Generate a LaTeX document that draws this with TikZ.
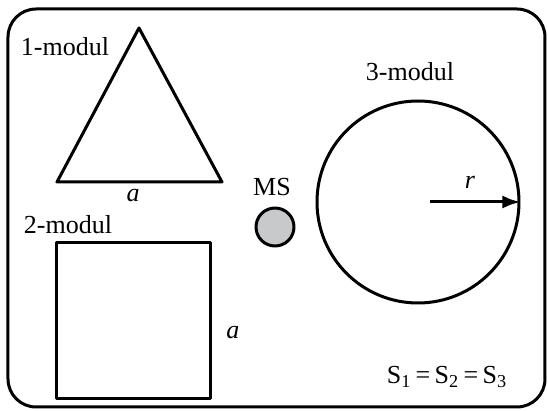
\documentclass[tikz,border=0pt]{standalone}
\usepackage{fontspec}
\setmainfont{Liberation Serif}
\usetikzlibrary{arrows.meta,positioning}
\definecolor{msgray}{HTML}{C8C9CB}

\begin{document}
\begin{tikzpicture}[x=0.5pt,y=-0.5pt,>=Latex,line join=round,
  every node/.style={font=\fontsize{13}{15}\selectfont,inner sep=0pt},
  outline/.style={draw=black,line width=1.5pt}]
  \useasboundingbox (0,0) rectangle (548,411);
  % frame
  \draw[line width=1.5pt,rounded corners=14pt] (8,9) rectangle (545,407);

  % module 1
  \draw[outline] (139,28) -- (222,182) -- (57,182) -- cycle;
  \node (lab1) at (65,47) {1-modul};
  \node (a1) at (133,196) {\itshape a};

  % module 2
  \node[outline,minimum width=77pt,minimum height=78pt] (mod2) at (134,321) {};
  \node (lab2) at (68,225) {2-modul};
  \node (a2) at (233,333) {\itshape a};

  % MS
  \node[outline,circle,fill=msgray,minimum size=19pt] (ms) at (275,227) {};
  \node (mslab) at (272,187) {MS};

  % module 3
  \node[outline,circle,minimum size=101pt] (mod3) at (418,202) {};
  \node (lab3) at (410,72) {3-modul};
  \coordinate (rstart) at (430,202);
  \draw[-{Latex[length=9pt,width=6.5pt]},line width=1.5pt] (rstart) -- (mod3.east);
  \node (r) at (470,182) {\itshape r};

  \node (area) at (447,377) {S\textsubscript{1}\,=\,S\textsubscript{2}\,=\,S\textsubscript{3}};
\end{tikzpicture}
\end{document}
